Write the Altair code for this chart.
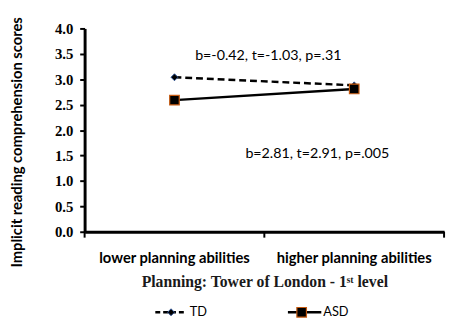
import altair as alt
import pandas as pd

levels = ["lower planning abilities", "higher planning abilities"]
groups = ["TD", "ASD"]
td_values = [3.04, 2.88]
asd_values = [2.59, 2.81]
annot_td = "b=-0.42, t=-1.03, p=.31"
annot_asd = "b=2.81, t=2.91, p=.005"
y_ticks = [0.0, 0.5, 1.0, 1.5, 2.0, 2.5, 3.0, 3.5, 4.0]

W, H = 366, 207

df = pd.DataFrame({
    "level": levels * 2,
    "group": ["TD"] * 2 + ["ASD"] * 2,
    "value": td_values + asd_values,
})

x_enc = alt.X(
    "level:N", sort=levels,
    scale=alt.Scale(type="band", paddingInner=0, paddingOuter=0),
    axis=alt.Axis(
        title="Planning: Tower of London - 1ˢᵗ level",
        titleFont="Liberation Serif", titleFontSize=16, titleFontWeight="bold",
        titleColor="#1a1a1a", titlePadding=9,
        labelAngle=0, labelFont="Lato", labelFontSize=15, labelFontWeight="bold",
        labelColor="black", labelPadding=19,
        ticks=False, domainColor="black", domainWidth=3,
    ),
)
y_enc = alt.Y(
    "value:Q",
    scale=alt.Scale(domain=[0, 4], nice=False),
    axis=alt.Axis(
        values=y_ticks, format=".1f", grid=False,
        title="Implicit reading comprehension scores",
        titleFont="Lato", titleFontSize=15, titleFontWeight="bold", titleColor="black",
        titleX=-61, titleY=H / 2 + 12, titleAngle=-90, titleBaseline="bottom",
        labelFont="Liberation Serif", labelFontSize=15, labelFontWeight="bold",
        labelColor="black", labelPadding=7,
        tickColor="black", tickWidth=2, tickSize=5,
        domainColor="black", domainWidth=3,
    ),
)

base = alt.Chart(df)

td_line = base.transform_filter(alt.datum.group == "TD").mark_line(
    color="black", strokeWidth=2.5, strokeDash=[7, 4]
).encode(x=x_enc, y=y_enc)
td_pts = base.transform_filter(alt.datum.group == "TD").mark_point(
    shape="diamond", filled=True, fill="black", stroke="#2f5597", strokeWidth=1,
    size=50, opacity=1
).encode(x=x_enc, y=y_enc)
asd_line = base.transform_filter(alt.datum.group == "ASD").mark_line(
    color="black", strokeWidth=2.5
).encode(x=x_enc, y=y_enc)
asd_pts = base.transform_filter(alt.datum.group == "ASD").mark_square(
    fill="black", stroke="#c55a11", strokeWidth=1.2, size=95, opacity=1
).encode(x=x_enc, y=y_enc)

ann1 = alt.Chart(pd.DataFrame({"t": [annot_td]})).mark_text(
    font="Lato", fontSize=14.5, color="black").encode(
    text="t:N", x=alt.value(187), y=alt.value(28))
ann2 = alt.Chart(pd.DataFrame({"t": [annot_asd]})).mark_text(
    font="Lato", fontSize=14.5, color="black").encode(
    text="t:N", x=alt.value(237), y=alt.value(128))

# x-axis boundary ticks
tick_df = pd.DataFrame({"k": [0]})
xt = [alt.Chart(tick_df).mark_rule(color="black", strokeWidth=2).encode(
    x=alt.value(px), y=alt.value(H), y2=alt.value(H + 6)) for px in (0, 183, 366)]

# legend
leg_y = 289
leg_td_line = alt.Chart(tick_df).mark_rule(color="black", strokeWidth=2.5, strokeDash=[5, 3]).encode(
    x=alt.value(72), x2=alt.value(104), y=alt.value(leg_y))
leg_td_pt = alt.Chart(tick_df).mark_point(
    shape="diamond", filled=True, fill="black", stroke="#2f5597", strokeWidth=1, size=50, opacity=1
).encode(x=alt.value(88), y=alt.value(leg_y))
leg_td_txt = alt.Chart(pd.DataFrame({"t": [groups[0]]})).mark_text(
    font="Lato", fontSize=13, align="left", color="black").encode(
    text="t:N", x=alt.value(107), y=alt.value(leg_y))
leg_asd_line = alt.Chart(tick_df).mark_rule(color="black", strokeWidth=2.5).encode(
    x=alt.value(207), x2=alt.value(241), y=alt.value(leg_y))
leg_asd_pt = alt.Chart(tick_df).mark_square(
    fill="black", stroke="#c55a11", strokeWidth=1.2, size=95, opacity=1
).encode(x=alt.value(221), y=alt.value(leg_y))
leg_asd_txt = alt.Chart(pd.DataFrame({"t": [groups[1]]})).mark_text(
    font="Lato", fontSize=13, align="left", color="black").encode(
    text="t:N", x=alt.value(243), y=alt.value(leg_y))

chart = alt.layer(
    td_line, td_pts, asd_line, asd_pts, ann1, ann2, *xt,
    leg_td_line, leg_td_pt, leg_td_txt, leg_asd_line, leg_asd_pt, leg_asd_txt,
).properties(
    width=W, height=H,
    autosize=alt.AutoSizeParams(type="none"),
    padding={"left": 78, "top": 18, "right": 4, "bottom": 85},
    background="white",
).configure_view(stroke=None)

chart.save("out.html", embed_options={"renderer": "svg", "actions": False})
